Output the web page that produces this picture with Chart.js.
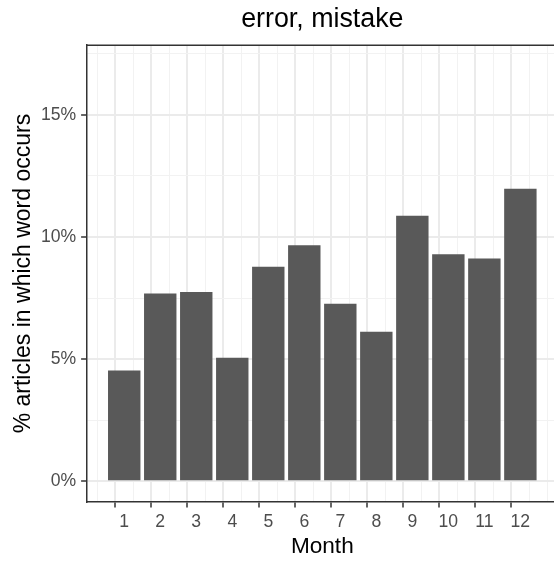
<!DOCTYPE html>
<html>
<head>
<meta charset="utf-8">
<script src="https://cdn.jsdelivr.net/npm/chart.js@4/dist/chart.umd.min.js"></script>
<style>
    html, body { margin: 0; padding: 0; background: #fff; overflow: hidden; }
    #wrap { width: 558px; height: 562px; }
</style>
</head>
<body>
<div id="wrap"><canvas id="wordChart" width="558" height="562"></canvas></div>
<script>
// data
const months = [1, 2, 3, 4, 5, 6, 7, 8, 9, 10, 11, 12];
const monthLabels = ['1', '2', '3', '4', '5', '6', '7', '8', '9', '10', '11', '12'];
const shares = [4.53, 7.68, 7.75, 5.05, 8.78, 9.66, 7.27, 6.12, 10.87, 9.29, 9.12, 11.97];
const yTicks = [0, 5, 10, 15];
const yTickLabels = ['0%', '5%', '10%', '15%'];

document.addEventListener('DOMContentLoaded', () => {
    Chart.defaults.font.family = '"Liberation Sans", Arial, sans-serif';

    // grid breaks: majors plus the halfway minors
    const xGrid = [];
    for (let v = 0.5; v <= 12.5; v += 0.5) xGrid.push(v);
    const yGrid = [];
    for (let v = 0; v <= 17.5; v += 2.5) yGrid.push(v);

    const isMajorX = v => months.includes(v);
    const isMajorY = v => yTicks.includes(v);

    const panelTop = {
        id: 'panelTop',
        afterDatasetsDraw(chart) {
            const { ctx, chartArea } = chart;
            ctx.save();
            ctx.strokeStyle = '#333';
            ctx.lineWidth = 1.5;
            ctx.beginPath();
            ctx.moveTo(chartArea.left, chartArea.top);
            ctx.lineTo(chartArea.right, chartArea.top);
            ctx.stroke();
            ctx.restore();
        }
    };

    new Chart(document.getElementById('wordChart'), {
        type: 'bar',
        data: {
            datasets: [{
                data: months.map((m, i) => ({ x: m, y: shares[i] })),
                backgroundColor: '#595959',
                borderWidth: 0,
                barPercentage: 0.9,
                // the ruler uses the half-step grid ticks, so one month = 2 steps
                categoryPercentage: 2
            }]
        },
        options: {
            responsive: false,
            animation: false,
            devicePixelRatio: 1,
            layout: { padding: 0 },
            plugins: {
                legend: { display: false },
                tooltip: { enabled: false },
                title: {
                    display: true,
                    text: 'error, mistake',
                    color: '#000',
                    fullSize: false,
                    font: { size: 26.8, weight: 'normal' },
                    padding: { top: 3.2, bottom: 9.8 }
                }
            },
            scales: {
                x: {
                    type: 'linear',
                    offset: false,
                    min: -0.045,
                    max: 13.045,
                    afterBuildTicks: scale => { scale.ticks = xGrid.map(v => ({ value: v })); },
                    afterFit: scale => { scale.height = 60; },
                    grid: {
                        color: c => (c.tick && isMajorX(c.tick.value)) ? '#ebebeb' : '#f2f2f2',
                        lineWidth: c => (c.tick && isMajorX(c.tick.value)) ? 2 : 1,
                        tickColor: c => (c.tick && isMajorX(c.tick.value)) ? '#333' : 'rgba(0,0,0,0)',
                        tickWidth: 1.5,
                        tickLength: 5.5
                    },
                    border: { display: true, color: '#333', width: 1.5 },
                    ticks: {
                        autoSkip: false,
                        maxRotation: 0,
                        minRotation: 0,
                        padding: 4,
                        color: '#4d4d4d',
                        font: { size: 17.6 },
                        callback: v => isMajorX(v) ? monthLabels[months.indexOf(v)] : ''
                    },
                    title: {
                        display: true,
                        text: 'Month',
                        color: '#000',
                        font: { size: 22.6 },
                        padding: { top: 0, bottom: 1.2 }
                    }
                },
                y: {
                    min: -0.85,
                    max: 17.85,
                    afterBuildTicks: scale => { scale.ticks = yGrid.map(v => ({ value: v })); },
                    afterFit: scale => { scale.width = 86.6; },
                    grid: {
                        color: c => (c.tick && isMajorY(c.tick.value)) ? '#ebebeb' : '#f2f2f2',
                        lineWidth: c => (c.tick && isMajorY(c.tick.value)) ? 2 : 1,
                        tickColor: c => (c.tick && isMajorY(c.tick.value)) ? '#333' : 'rgba(0,0,0,0)',
                        tickWidth: 1.5,
                        tickLength: 5.5
                    },
                    border: { display: true, color: '#333', width: 1.5 },
                    ticks: {
                        autoSkip: false,
                        padding: 5,
                        color: '#4d4d4d',
                        font: { size: 17.6 },
                        callback: v => isMajorY(v) ? yTickLabels[yTicks.indexOf(v)] : ''
                    },
                    title: {
                        display: true,
                        text: '% articles in which word occurs',
                        color: '#000',
                        font: { size: 23 },
                        padding: { top: 10.2, bottom: 0 }
                    }
                }
            }
        },
        plugins: [panelTop]
    });
});
</script>
</body>
</html>
